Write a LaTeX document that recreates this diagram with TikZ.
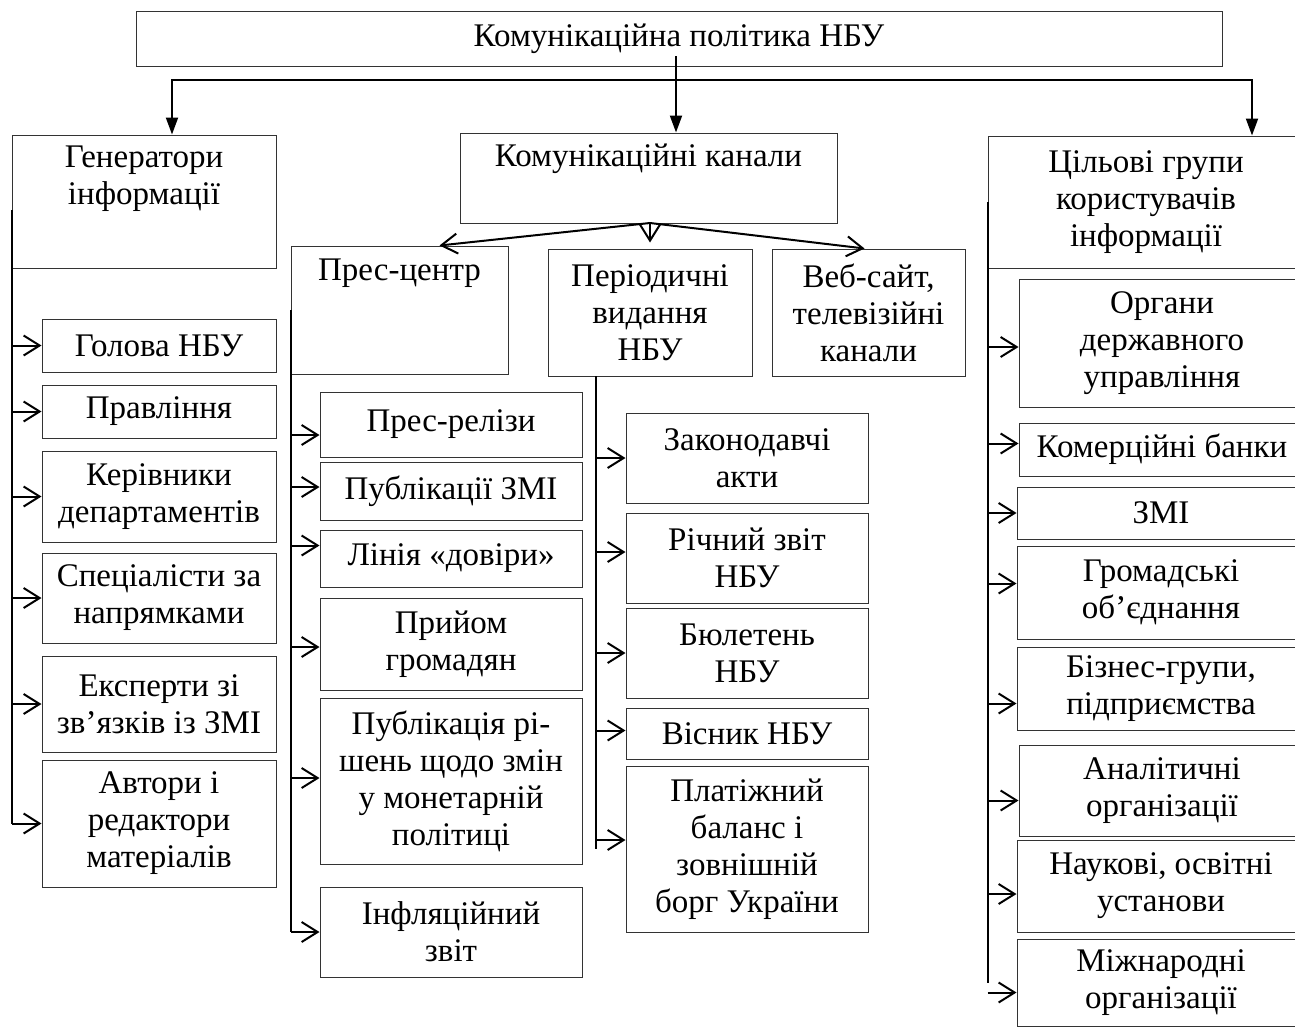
\documentclass[tikz,border=0pt]{standalone}
\usepackage{fontspec}
\setmainfont{Liberation Serif}
\usetikzlibrary{arrows.meta}

\begin{document}
\begin{tikzpicture}[x=1pt,y=-1pt,font=\fontsize{33}{37}\selectfont,
	mtip/.tip={Triangle[length=17pt,width=12pt]},
	btip/.tip={Straight Barb[length=16pt,width=20pt]},
	box/.style={draw=black!80,line width=1pt,rectangle,align=center,inner sep=0pt},
	sz/.style 2 args={minimum width=#1pt,minimum height=#2pt},
	top text/.style={anchor=north,align=center,inner sep=0pt,yshift=-11pt},
	main/.style={line width=2pt,-mtip},
	sub/.style={line width=2pt,-btip},
	trunk/.style={line width=2pt}]

	\useasboundingbox (0,0) rectangle (1295,1028);

	% upper level
	\node[box,sz={1086}{55}] (nbu) at (679,38.5) {Комунікаційна політика НБУ};
	\node[box,sz={264}{133}] (gen) at (144,201.5) {};
	\node[top text] (gen-t) at (gen.north) {Генератори\\інформації};
	\node[box,sz={377}{90}] (chan) at (648.5,178) {};
	\node[top text] (chan-t) at (chan.north) {Комунікаційні канали};
	\node[box,sz={316}{132}] (aud) at (1146,202) {Цільові групи\\користувачів\\інформації};

	% channels
	\node[box,sz={217}{128}] (press) at (399.5,310) {};
	\node[top text,yshift=-2pt] (press-t) at (press.north) {Прес-центр};
	\node[box,sz={204}{127}] (period) at (650,312.5) {Періодичні\\видання\\НБУ};
	\node[box,sz={193}{127}] (web) at (868.5,312.5) {Веб-сайт,\\телевізійні\\канали};

	% generators
	\node[box,sz={234}{53}] (head) at (159,345.5) {Голова НБУ};
	\node[box,sz={234}{53}] (board) at (159,411.5) {Правління};
	\node[box,sz={234}{91}] (dept) at (159,496.5) {Керівники\\департаментів};
	\node[box,sz={234}{90}] (spec) at (159,598) {Спеціалісти за\\напрямками};
	\node[box,sz={234}{96}] (expert) at (159,704) {Експерти зі\\зв’язків із ЗМІ};
	\node[box,sz={234}{127}] (author) at (159,823.5) {Автори і\\редактори\\матеріалів};

	% press centre
	\node[box,sz={262}{65}] (release) at (451,424.5) {Прес-релізи};
	\node[box,sz={262}{58}] (media) at (451,491) {Публікації ЗМІ};
	\node[box,sz={262}{57}] (trust) at (451,558.5) {Лінія «довіри»};
	\node[box,sz={262}{92}] (reception) at (451,644) {Прийом\\громадян};
	\node[box,sz={262}{166}] (decision) at (451,781) {Публікація рі-\\шень щодо змін\\у монетарній\\політиці};
	\node[box,sz={262}{90}] (infl) at (451,932) {Інфляційний\\звіт};

	% periodicals
	\node[box,sz={242}{90}] (laws) at (747,458) {Законодавчі\\акти};
	\node[box,sz={242}{90}] (annual) at (747,558) {Річний звіт\\НБУ};
	\node[box,sz={242}{90}] (bulletin) at (747,653) {Бюлетень\\НБУ};
	\node[box,sz={242}{51}] (herald) at (747,733.5) {Вісник НБУ};
	\node[box,sz={242}{166}] (balance) at (747,849) {Платіжний\\баланс і\\зовнішній\\борг України};

	% target groups
	\node[box,sz={286}{128}] (gov) at (1162,343) {Органи\\державного\\управління};
	\node[box,sz={286}{53}] (banks) at (1162,449.5) {Комерційні банки};
	\node[box,sz={288}{52}] (zmi) at (1161,513) {ЗМІ};
	\node[box,sz={288}{93}] (civic) at (1161,592.5) {Громадські\\об’єднання};
	\node[box,sz={288}{83}] (business) at (1161,688.5) {Бізнес-групи,\\підприємства};
	\node[box,sz={286}{91}] (analytic) at (1162,790.5) {Аналітичні\\організації};
	\node[box,sz={288}{92}] (science) at (1161,886) {Наукові, освітні\\установи};
	\node[box,sz={288}{87}] (intl) at (1161,982.5) {Міжнародні\\організації};

	% main arrows
	\coordinate (drop) at (676,56);
	\coordinate (lft) at (172,80);
	\coordinate (rgt) at (1252,80);
	\draw[main] (drop) -- (drop |- chan.north);
	\draw[line width=2pt,mtip-mtip] (lft |- gen.north) -- (lft) -- (rgt) -- (rgt |- aud.north);

	% channel arrows
	\coordinate (fork) at (650,223);
	\draw[sub] (fork) -- ([xshift=40pt]press.north);
	\draw[sub] (fork) -- ([yshift=6pt]fork |- period.north);
	\draw[sub] (fork) -- ([xshift=-4pt]web.north);

	% generators
	\draw[trunk] ([yshift=-8pt]gen.west) -- (gen.west |- author.west);
	\foreach \n in {head,board,dept,spec,expert,author}
		\draw[sub] (gen.west |- \n.west) -- (\n.west);

	% press centre
	\draw[trunk] (press.west) -- (press.west |- infl.west);
	\foreach \n/\d in {release/-10.5,media/4,trust/13,reception/-3,decision/3,infl/0}{
		\path ([yshift=\d pt]\n.west) coordinate (tmp);
		\draw[sub] (press.west |- tmp) -- (tmp);
	}

	% periodicals
	\coordinate (ptr) at (596,376);
	\draw[trunk] (ptr) -- (ptr |- balance.west);
	\foreach \n/\d in {laws/0,annual/6,bulletin/0,herald/3,balance/9}{
		\path ([yshift=\d pt]\n.west) coordinate (tmp);
		\draw[sub] (ptr |- tmp) -- (tmp);
	}

	% target groups
	\draw[trunk] (aud.west) -- (aud.west |- intl.west);
	\foreach \n/\d in {gov/-4,banks/6,zmi/0,civic/9,business/-15,analytic/-10,science/-8,intl/-10}{
		\path ([yshift=\d pt]\n.west) coordinate (tmp);
		\draw[sub] (aud.west |- tmp) -- (tmp);
	}
\end{tikzpicture}
\end{document}
